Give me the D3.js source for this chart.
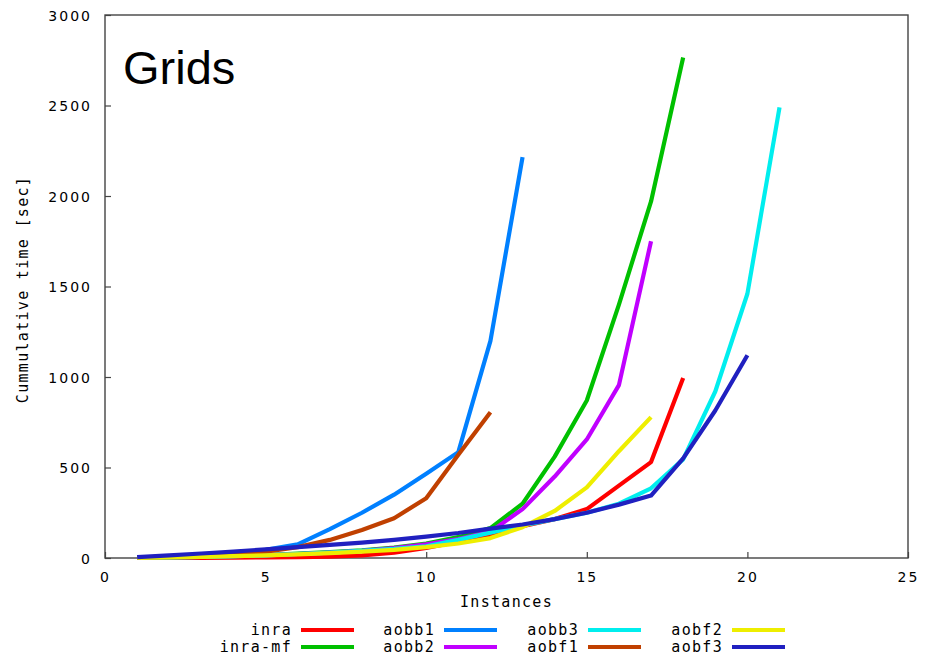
<!DOCTYPE html>
<html>
<head>
<meta charset="utf-8">
<script src="https://cdn.jsdelivr.net/npm/d3@7"></script>
<style>
  html, body { margin: 0; padding: 0; background: #fff; }
  svg { display: block; }
  .tick-label { font-family: "DejaVu Sans", sans-serif; font-size: 14px; letter-spacing: 2px; fill: #000; }
  .mono { font-family: "DejaVu Sans Mono", monospace; font-size: 15px; letter-spacing: 1.3px; fill: #000; }
</style>
</head>
<body>
<svg id="chart" width="927" height="659"></svg>
<script>
// Instances solved (x) vs. cumulative running time in seconds (y)
const seriesNames = ["inra", "inra-mf", "aobb1", "aobb2", "aobb3", "aobf1", "aobf2", "aobf3"];
const seriesColors = ["#ff0000", "#00c000", "#0080ff", "#c000ff", "#00eeee", "#c04000", "#eeee00", "#2020c0"];

const inra   = [0, 0, 1, 2, 3, 5, 8, 15, 30, 55, 90, 130, 175, 215, 270, 400, 530, 995];
const inraMf = [1, 3, 6, 10, 16, 24, 32, 42, 58, 80, 115, 165, 300, 560, 870, 1400, 1970, 2765];
const aobb1  = [2, 8, 17, 28, 45, 75, 160, 250, 350, 465, 585, 1200, 2215];
const aobb2  = [1, 3, 6, 10, 15, 22, 30, 40, 55, 75, 105, 145, 270, 450, 655, 955, 1750];
const aobb3  = [1, 3, 6, 10, 15, 22, 30, 40, 50, 65, 100, 140, 180, 215, 250, 300, 385, 545, 920, 1460, 2490];
const aobf1  = [2, 6, 12, 20, 35, 60, 100, 155, 220, 330, 570, 805];
const aobf2  = [1, 3, 6, 10, 15, 20, 27, 35, 45, 60, 80, 110, 170, 260, 390, 590, 778];
const aobf3  = [5, 15, 25, 35, 48, 60, 72, 85, 100, 118, 138, 162, 185, 215, 250, 295, 345, 550, 815, 1120];

const seriesValues = [inra, inraMf, aobb1, aobb2, aobb3, aobf1, aobf2, aobf3];

const xTicks = [0, 5, 10, 15, 20, 25];
const yTicks = [0, 500, 1000, 1500, 2000, 2500, 3000];

const svg = d3.select("#chart");
const plot = { left: 105, right: 908, top: 15, bottom: 558 };

const x = d3.scaleLinear().domain([0, 25]).range([plot.left, plot.right]);
const y = d3.scaleLinear().domain([0, 3000]).range([plot.bottom, plot.top]);

// Axes with short inward ticks
const xAxis = svg.append("g")
  .attr("transform", `translate(0,${plot.bottom})`)
  .call(d3.axisBottom(x).tickValues(xTicks).tickSize(-6).tickPadding(14).tickFormat(d3.format("d")));
const yAxis = svg.append("g")
  .attr("transform", `translate(${plot.left},0)`)
  .call(d3.axisLeft(y).tickValues(yTicks).tickSize(-6).tickPadding(13).tickFormat(d3.format("d")));

[xAxis, yAxis].forEach(g => {
  g.select(".domain").remove();
  g.selectAll(".tick line").attr("stroke", "#444").attr("stroke-width", 1.2);
  g.selectAll(".tick text").attr("class", "tick-label").attr("font-size", null).attr("font-family", null);
});
yAxis.selectAll(".tick text").attr("dy", "0.36em");

// Frame around the plotting area
svg.append("rect")
  .attr("x", plot.left).attr("y", plot.top)
  .attr("width", plot.right - plot.left).attr("height", plot.bottom - plot.top)
  .attr("fill", "none").attr("stroke", "#444").attr("stroke-width", 1.4);

// Series lines (instance numbers start at 1)
const line = d3.line()
  .x((d, i) => x(i + 1))
  .y(d => y(d));

svg.append("g").selectAll("path")
  .data(seriesValues)
  .join("path")
  .attr("d", line)
  .attr("fill", "none")
  .attr("stroke", (d, i) => seriesColors[i])
  .attr("stroke-width", 4.2)
  .attr("stroke-linejoin", "round");

// Panel title
svg.append("text")
  .attr("x", 123).attr("y", 84)
  .attr("font-family", "Liberation Sans, Arial, sans-serif")
  .attr("font-size", 47)
  .text("Grids");

// Axis titles
svg.append("text")
  .attr("class", "mono")
  .attr("x", (plot.left + plot.right) / 2).attr("y", 607)
  .attr("text-anchor", "middle")
  .text("Instances");

svg.append("text")
  .attr("class", "mono")
  .attr("transform", `translate(28,${(plot.top + plot.bottom) / 2 + 3}) rotate(-90)`)
  .attr("text-anchor", "middle")
  .text("Cummulative time [sec]");

// Legend: four columns, two rows
const legendCols = [292, 435, 579, 723];
const legendRows = [630, 647];
const legend = svg.append("g");
seriesNames.forEach((name, i) => {
  const cx = legendCols[Math.floor(i / 2)];
  const cy = legendRows[i % 2];
  legend.append("text")
    .attr("class", "mono")
    .attr("x", cx).attr("y", cy)
    .attr("dy", "0.35em")
    .attr("text-anchor", "end")
    .text(name);
  legend.append("line")
    .attr("x1", cx + 9).attr("x2", cx + 62)
    .attr("y1", cy).attr("y2", cy)
    .attr("stroke", seriesColors[i])
    .attr("stroke-width", 4.2);
});
</script>
</body>
</html>
